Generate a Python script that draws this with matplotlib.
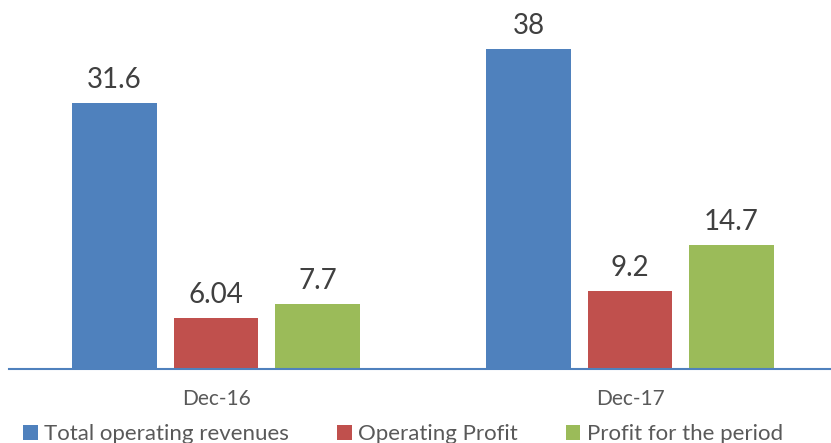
import matplotlib.pyplot as plt
import numpy as np

# Data
periods = ['Dec-16', 'Dec-17']
series = ['Total operating revenues', 'Operating Profit', 'Profit for the period']
revenues = [31.6, 38]
op_profit = [6.04, 9.2]
profit = [7.7, 14.7]
labels = [['31.6', '38'], ['6.04', '9.2'], ['7.7', '14.7']]
colors = ['#4F81BD', '#C0504D', '#9BBB59']

plt.rcParams['font.family'] = ['Lato', 'DejaVu Sans']

fig = plt.figure(figsize=(8.31, 4.43), dpi=100)
ax = fig.add_axes([9 / 831, 1 - 368.5 / 443, 822 / 831, 368.5 / 443])

x = np.arange(len(periods))
width = 0.205
step = 0.245
values = [revenues, op_profit, profit]
for i, (vals, col) in enumerate(zip(values, colors)):
    pos = x + (i - 1) * step
    bars = ax.bar(pos, vals, width, color=col, label=series[i])
    for b, txt in zip(bars, labels[i]):
        ax.text(b.get_x() + b.get_width() / 2, b.get_height() + 1.8, txt,
                ha='center', va='baseline', fontsize=20, color='#404040')

ax.set_xlim(-0.5, -0.5 + 822 / 414)
ax.set_ylim(0, 368.5 / 8.40)
ax.set_xticks(x)
ax.set_xticklabels(periods, fontsize=15, color='#595959')
ax.tick_params(axis='x', length=0, pad=15)
ax.set_yticks([])
for s in ['top', 'left', 'right']:
    ax.spines[s].set_visible(False)
ax.spines['bottom'].set_color('#4F81BD')
ax.spines['bottom'].set_linewidth(1.5)

fig.legend(loc='lower left', bbox_to_anchor=(0.004, -0.048), ncol=3, frameon=False,
           fontsize=16, handlelength=0.65, handleheight=0.65, handletextpad=0.3,
           columnspacing=2.15, labelcolor='#595959')

fig.savefig('out.png', dpi=100)
